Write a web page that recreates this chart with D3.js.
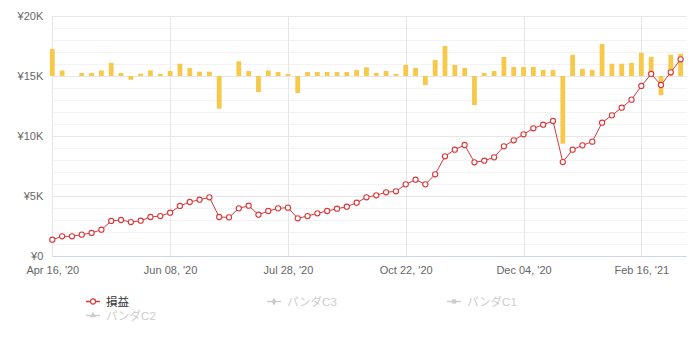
<!DOCTYPE html>
<html>
<head>
<meta charset="utf-8">
<script src="https://cdn.jsdelivr.net/npm/d3@7/dist/d3.min.js"></script>
<style>
  html, body { margin: 0; padding: 0; background: #fff; }
  svg { display: block; font-family: "Liberation Sans", Arial, "Noto Sans CJK JP", sans-serif; }
</style>
</head>
<body>
<svg id="chart" width="692" height="340"></svg>
<script>
// Cumulative profit (thousand yen), one value per trading record
const pnl = [
  1.36, 1.64, 1.64, 1.78, 1.92, 2.19, 2.92, 3.00, 2.83, 2.94,
  3.25, 3.33, 3.61, 4.17, 4.50, 4.69, 4.89, 3.25, 3.22, 3.97,
  4.19, 3.44, 3.75, 3.97, 4.03, 3.14, 3.33, 3.56, 3.75, 3.94,
  4.11, 4.44, 4.89, 5.06, 5.31, 5.39, 5.97, 6.36, 5.97, 6.81,
  8.31, 8.86, 9.25, 7.81, 7.94, 8.22, 9.14, 9.64, 10.14, 10.64,
  10.94, 11.25, 7.83, 8.86, 9.22, 9.53, 11.11, 11.72, 12.36, 13.03,
  14.17, 15.17, 14.25, 15.31, 16.39
];

// Per-record profit / loss (thousand yen), shown as bars on a secondary scale
const daily = [
  1.36, 0.28, 0.00, 0.15, 0.15, 0.28, 0.66, 0.15, -0.19, 0.12,
  0.28, 0.10, 0.25, 0.62, 0.40, 0.22, 0.22, -1.65, 0.00, 0.74,
  0.25, -0.81, 0.28, 0.20, 0.10, -0.86, 0.20, 0.20, 0.20, 0.20,
  0.20, 0.30, 0.44, 0.15, 0.25, 0.10, 0.56, 0.41, -0.46, 0.81,
  1.52, 0.56, 0.41, -1.47, 0.15, 0.25, 0.96, 0.46, 0.46, 0.46,
  0.30, 0.30, -3.42, 1.07, 0.36, 0.30, 1.62, 0.62, 0.62, 0.66,
  1.17, 0.97, -0.97, 1.07, 1.12
];

// Category ticks: one date label every 12 records
const tickIndex = [0, 12, 24, 36, 48, 60];
const tickLabels = ["Apr 16, '20", "Jun 08, '20", "Jul 28, '20", "Oct 22, '20", "Dec 04, '20", "Feb 16, '21"];

// Y axis ticks (thousand yen)
const yTicks = [0, 5, 10, 15, 20];
const yTickLabels = ["¥0", "¥5K", "¥10K", "¥15K", "¥20K"];

// Legend entries: only the first series is visible
const legendNames = ["損益", "パンダC3", "パンダC1", "パンダC2"];
const legendVisible = [true, false, false, false];

const svg = d3.select("#chart");

const plot = { left: 52.3, right: 686.7, top: 16, bottom: 256 };

const x = d3.scaleLinear().domain([0, 64.62]).range([plot.left, plot.right]);
const y = d3.scaleLinear().domain([0, 20]).range([plot.bottom, plot.top]);
// Secondary scale for the bars: zero sits on the ¥15K line
const yBar = d3.scaleLinear().domain([-9.09, 3.03]).range([plot.bottom, plot.top]);

const RED = "#d9393c";
const YELLOW = "#f7c94b";
const GRID = "#e6e6e6";
const MINOR = "#f3f3f3";
const LABEL = "#666666";

// Minor horizontal grid (every 1K)
const g = svg.append("g");
g.selectAll("line.minor")
  .data(d3.range(0, 20.001, 1).filter(v => v % 5 !== 0))
  .join("line")
  .attr("x1", plot.left).attr("x2", plot.right)
  .attr("y1", d => Math.round(y(d)) + 0.5).attr("y2", d => Math.round(y(d)) + 0.5)
  .attr("stroke", MINOR).attr("stroke-width", 1);

// Major horizontal grid
g.selectAll("line.major")
  .data(yTicks.filter(v => v !== 0))
  .join("line")
  .attr("x1", plot.left).attr("x2", plot.right)
  .attr("y1", d => Math.round(y(d)) + 0.5).attr("y2", d => Math.round(y(d)) + 0.5)
  .attr("stroke", GRID).attr("stroke-width", 1);

// Vertical grid at labelled categories
g.selectAll("line.vgrid")
  .data(tickIndex)
  .join("line")
  .attr("x1", d => Math.round(x(d)) + 0.5).attr("x2", d => Math.round(x(d)) + 0.5)
  .attr("y1", plot.top).attr("y2", plot.bottom)
  .attr("stroke", GRID).attr("stroke-width", 1);

// X axis line
svg.append("line")
  .attr("x1", plot.left).attr("x2", plot.right)
  .attr("y1", plot.bottom + 0.5).attr("y2", plot.bottom + 0.5)
  .attr("stroke", "#ccd6eb").attr("stroke-width", 1);

// Y axis labels
const yAxis = d3.axisLeft(y).tickValues(yTicks)
  .tickFormat((d, i) => yTickLabels[i]).tickSize(0).tickPadding(9);
const ya = svg.append("g").attr("transform", `translate(${plot.left},0)`).call(yAxis);
ya.select(".domain").remove();
ya.selectAll("text").attr("fill", LABEL).style("font-size", "11px")
  .attr("font-family", "'Liberation Sans', Arial, sans-serif");

// X axis labels
const xAxis = d3.axisBottom(x).tickValues(tickIndex)
  .tickFormat((d, i) => tickLabels[i]).tickSize(0).tickPadding(10);
const xa = svg.append("g").attr("transform", `translate(0,${plot.bottom})`).call(xAxis);
xa.select(".domain").remove();
xa.selectAll("text").attr("fill", LABEL).style("font-size", "11px")
  .attr("font-family", "'Liberation Sans', Arial, sans-serif");

// Bars
const barW = 4.8;
svg.append("g").selectAll("rect")
  .data(daily)
  .join("rect")
  .attr("x", (d, i) => x(i) - barW / 2)
  .attr("width", barW)
  .attr("y", d => Math.min(yBar(d), yBar(0)))
  .attr("height", d => Math.abs(yBar(d) - yBar(0)))
  .attr("fill", YELLOW);

// Cumulative line
const line = d3.line().x((d, i) => x(i)).y(d => y(d));
svg.append("path")
  .datum(pnl)
  .attr("d", line)
  .attr("fill", "none")
  .attr("stroke", RED)
  .attr("stroke-width", 1);

svg.append("g").selectAll("circle")
  .data(pnl)
  .join("circle")
  .attr("cx", (d, i) => x(i))
  .attr("cy", d => y(d))
  .attr("r", 2.6)
  .attr("fill", "#fff")
  .attr("stroke", RED)
  .attr("stroke-width", 1.1);

// Legend
const legendPos = [[86, 301], [267, 301], [447, 301], [86, 315]];
const markers = ["circle", "diamond", "square", "triangle"];
const legend = svg.append("g");
legendNames.forEach((name, i) => {
  const [lx, ly] = legendPos[i];
  const col = legendVisible[i] ? RED : "#cccccc";
  const item = legend.append("g").attr("transform", `translate(${lx},${ly})`);
  item.append("line").attr("x1", 0).attr("x2", 14).attr("y1", 0.5).attr("y2", 0.5)
    .attr("stroke", col).attr("stroke-width", 1.5);
  if (markers[i] === "circle") {
    item.append("circle").attr("cx", 7).attr("cy", 0.5).attr("r", 2.6)
      .attr("fill", "#fff").attr("stroke", col).attr("stroke-width", 1.2);
  } else {
    const sym = { diamond: d3.symbolDiamond, square: d3.symbolSquare, triangle: d3.symbolTriangle }[markers[i]];
    item.append("path").attr("d", d3.symbol().type(sym).size(18)())
      .attr("transform", "translate(7,0.5)").attr("fill", col);
  }
  item.append("text").attr("x", 20).attr("y", 4.5)
    .attr("fill", legendVisible[i] ? "#333333" : "#cccccc")
    .style("font-size", "11.5px")
    .attr("font-family", "'Liberation Sans', 'Noto Sans CJK JP', sans-serif")
    .text(name);
});
</script>
</body>
</html>
